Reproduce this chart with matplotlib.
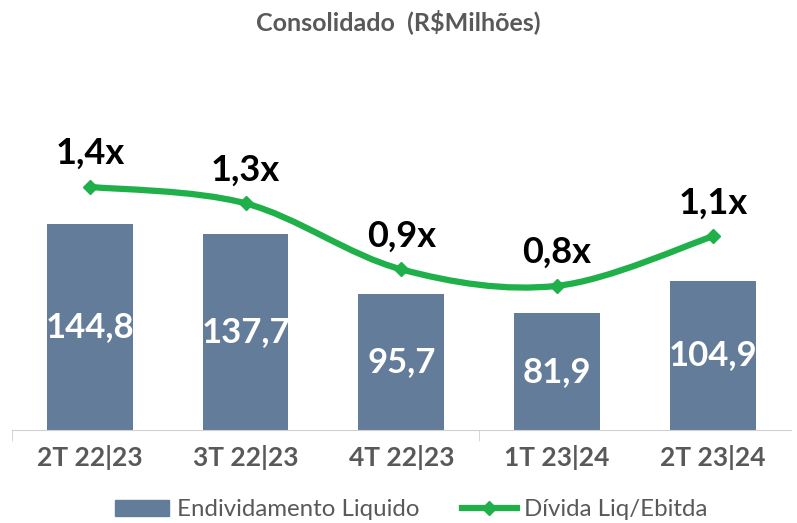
import numpy as np
import matplotlib.pyplot as plt
from matplotlib.path import Path
from matplotlib.patches import PathPatch
from matplotlib.lines import Line2D
from matplotlib.patches import Patch

plt.rcParams['font.family'] = ['Lato', 'DejaVu Sans']

periodos = ['2T 22|23', '3T 22|23', '4T 22|23', '1T 23|24', '2T 23|24']
endividamento = [144.8, 137.7, 95.7, 81.9, 104.9]
divida_ebitda = [1.4, 1.3, 0.9, 0.8, 1.1]

cor_barra = '#637C99'
cor_linha = '#1FB04A'
cinza = '#595959'

fig = plt.figure(figsize=(7.97, 5.23), dpi=100)
ax = fig.add_axes([0.015, 0.178, 0.977, 0.631])
x = np.arange(len(periodos))

ax.bar(x, endividamento, width=0.55, color=cor_barra, zorder=2)
ax.set_xlim(-0.5, len(periodos) - 0.5)
ax.set_ylim(0, 232)
for xi, v in zip(x, endividamento):
    ax.text(xi, v / 2, f'{v:.1f}'.replace('.', ','), ha='center', va='center',
            color='white', fontsize=25, fontweight='bold')

ax.set_yticks([])
for s in ['top', 'right', 'left']:
    ax.spines[s].set_visible(False)
ax.spines['bottom'].set_color('#D0D0D0')
ax.set_xticks(x)
ax.set_xticklabels(periodos, fontsize=19, fontweight='bold', color=cinza)
ax.tick_params(axis='x', length=0, pad=11)
ax.set_xticks([-0.5, 2.5], minor=True)
ax.tick_params(axis='x', which='minor', length=8, color='#D0D0D0')

# linha suavizada (catmull-rom -> bezier)
ax2 = ax.twinx()
ax2.set_ylim(-0.073, 1.927)
ax2.set_yticks([])
for s in ax2.spines.values():
    s.set_visible(False)

pts = np.column_stack([x, divida_ebitda]).astype(float)
verts = [tuple(pts[0])]
codes = [Path.MOVETO]
n = len(pts)
for i in range(n - 1):
    p0 = pts[max(i - 1, 0)]
    p1 = pts[i]
    p2 = pts[i + 1]
    p3 = pts[min(i + 2, n - 1)]
    c1 = p1 + (p2 - p0) / 6
    c2 = p2 - (p3 - p1) / 6
    verts += [tuple(c1), tuple(c2), tuple(p2)]
    codes += [Path.CURVE4] * 3
ax2.add_patch(PathPatch(Path(verts, codes), fill=False, edgecolor=cor_linha,
                        lw=4.5, capstyle='round', zorder=3))
ax2.plot(x, divida_ebitda, ls='none', marker='D', ms=7, color=cor_linha, zorder=4)
for xi, v in zip(x, divida_ebitda):
    ax2.annotate(f'{v:.1f}x'.replace('.', ','), (xi, v), xytext=(0, 12),
                 textcoords='offset points', ha='center', va='bottom',
                 fontsize=26, fontweight='bold', color='black')

fig.text(0.5, 0.958, 'Consolidado  (R$Milhões)', ha='center', va='center',
         fontsize=18, fontweight='bold', color=cinza)

handles = [Patch(color=cor_barra),
           Line2D([], [], color=cor_linha, lw=4.5, marker='D', ms=7)]
fig.legend(handles, ['Endividamento Liquido', 'Dívida Liq/Ebitda'],
           loc='center', bbox_to_anchor=(0.516, 0.025), ncol=2, frameon=False,
           fontsize=17.3, labelcolor=cinza, handlelength=2.25, columnspacing=1.8,
           handletextpad=0.3)

fig.savefig('out.png', dpi=100, facecolor='white')
